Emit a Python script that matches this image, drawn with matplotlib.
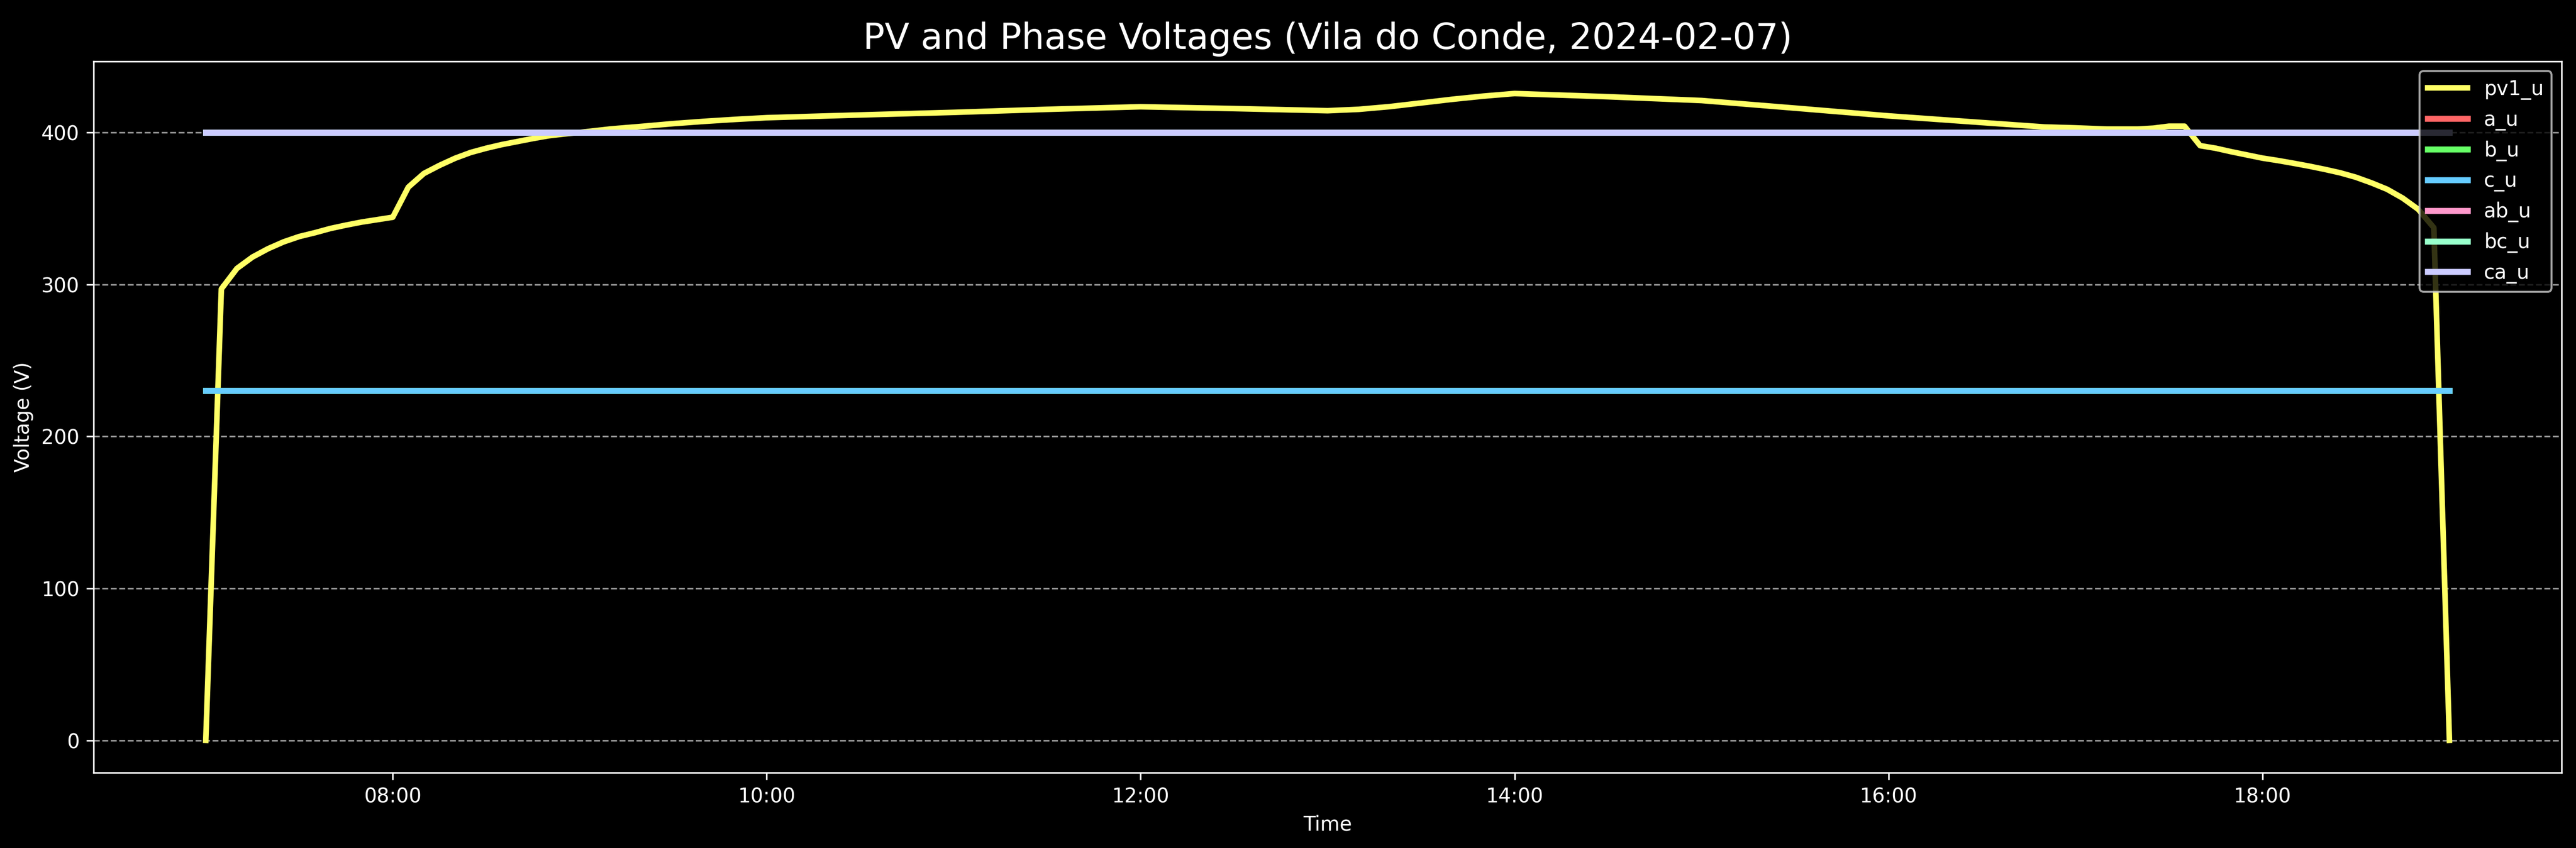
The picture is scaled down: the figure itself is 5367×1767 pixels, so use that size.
import matplotlib
matplotlib.use("Agg")
import matplotlib.pyplot as plt
import matplotlib.dates as mdates
import pandas as pd

day = "2024-02-07"
times = [
    "07:00", "07:05", "07:10", "07:15", "07:20", "07:25", "07:30", "07:35",
    "07:40", "07:45", "07:50", "07:55", "08:00", "08:05", "08:10", "08:15",
    "08:20", "08:25", "08:30", "08:35", "08:40", "08:45", "08:50", "08:55",
    "09:00", "09:10", "09:20", "09:30", "09:40", "09:50", "10:00", "10:30",
    "11:00", "11:30", "12:00", "12:30", "13:00", "13:10", "13:20", "13:30",
    "13:40", "13:50", "14:00", "14:30", "15:00", "15:30", "16:00", "16:30",
    "16:50", "17:00", "17:10", "17:20", "17:25", "17:30", "17:35", "17:40",
    "17:45", "17:50", "17:55", "18:00", "18:05", "18:10", "18:15", "18:20",
    "18:25", "18:30", "18:35", "18:40", "18:45", "18:50", "18:55", "19:00",
]
pv1_u = [
    0, 297, 310.5, 318, 323.5, 328, 331.5, 334,
    336.8, 339, 341, 342.6, 344.2, 364, 373, 378.3,
    383, 386.8, 389.6, 392, 394, 396, 397.8, 399,
    400, 402.3, 404, 405.8, 407.3, 408.6, 409.7, 411.5,
    413.2, 415.2, 416.9, 415.7, 414.3, 415.2, 417, 419.4,
    421.8, 423.9, 425.6, 423.5, 421, 416, 410.9, 406.5,
    403.6, 403, 402.2, 402.2, 402.8, 404.1, 404.1, 391.3,
    389.6, 387.3, 385.2, 383.1, 381.5, 379.7, 377.8, 375.7,
    373.4, 370.5, 366.8, 362.6, 356.8, 349.4, 337.3, 0,
]
a_u = [230] * len(times)
b_u = [230] * len(times)
c_u = [230] * len(times)
ab_u = [400] * len(times)
bc_u = [400] * len(times)
ca_u = [400] * len(times)

series = [
    ("a_u", a_u, "#FF6666"),
    ("b_u", b_u, "#66FF66"),
    ("c_u", c_u, "#66CCFF"),
    ("ab_u", ab_u, "#FF99CC"),
    ("bc_u", bc_u, "#99FFCC"),
    ("ca_u", ca_u, "#CCCCFF"),
]

plt.style.use("dark_background")
fig, ax = plt.subplots(figsize=(5367 / 300, 1767 / 300), dpi=300)
fig.subplots_adjust(left=195 / 5367, right=5337 / 5367,
                    top=1 - 127.5 / 1767, bottom=1 - 1610 / 1767)

t = pd.to_datetime([day + " " + s for s in times])
ax.plot(t, pv1_u, color="#FFFF66", lw=2.8, label="pv1_u")
for name, vals, color in series:
    ax.plot(t, vals, color=color, lw=3, label=name)

ax.set_title("PV and Phase Voltages (Vila do Conde, 2024-02-07)", fontsize=18)
ax.set_xlabel("Time")
ax.set_ylabel("Voltage (V)")
ax.xaxis.set_major_locator(mdates.HourLocator(byhour=range(0, 24, 2)))
ax.xaxis.set_major_formatter(mdates.DateFormatter("%H:%M"))
ax.grid(axis="y", linestyle="--", alpha=0.6)
ax.legend(loc="upper right")

fig.savefig("out.png", dpi=300)
